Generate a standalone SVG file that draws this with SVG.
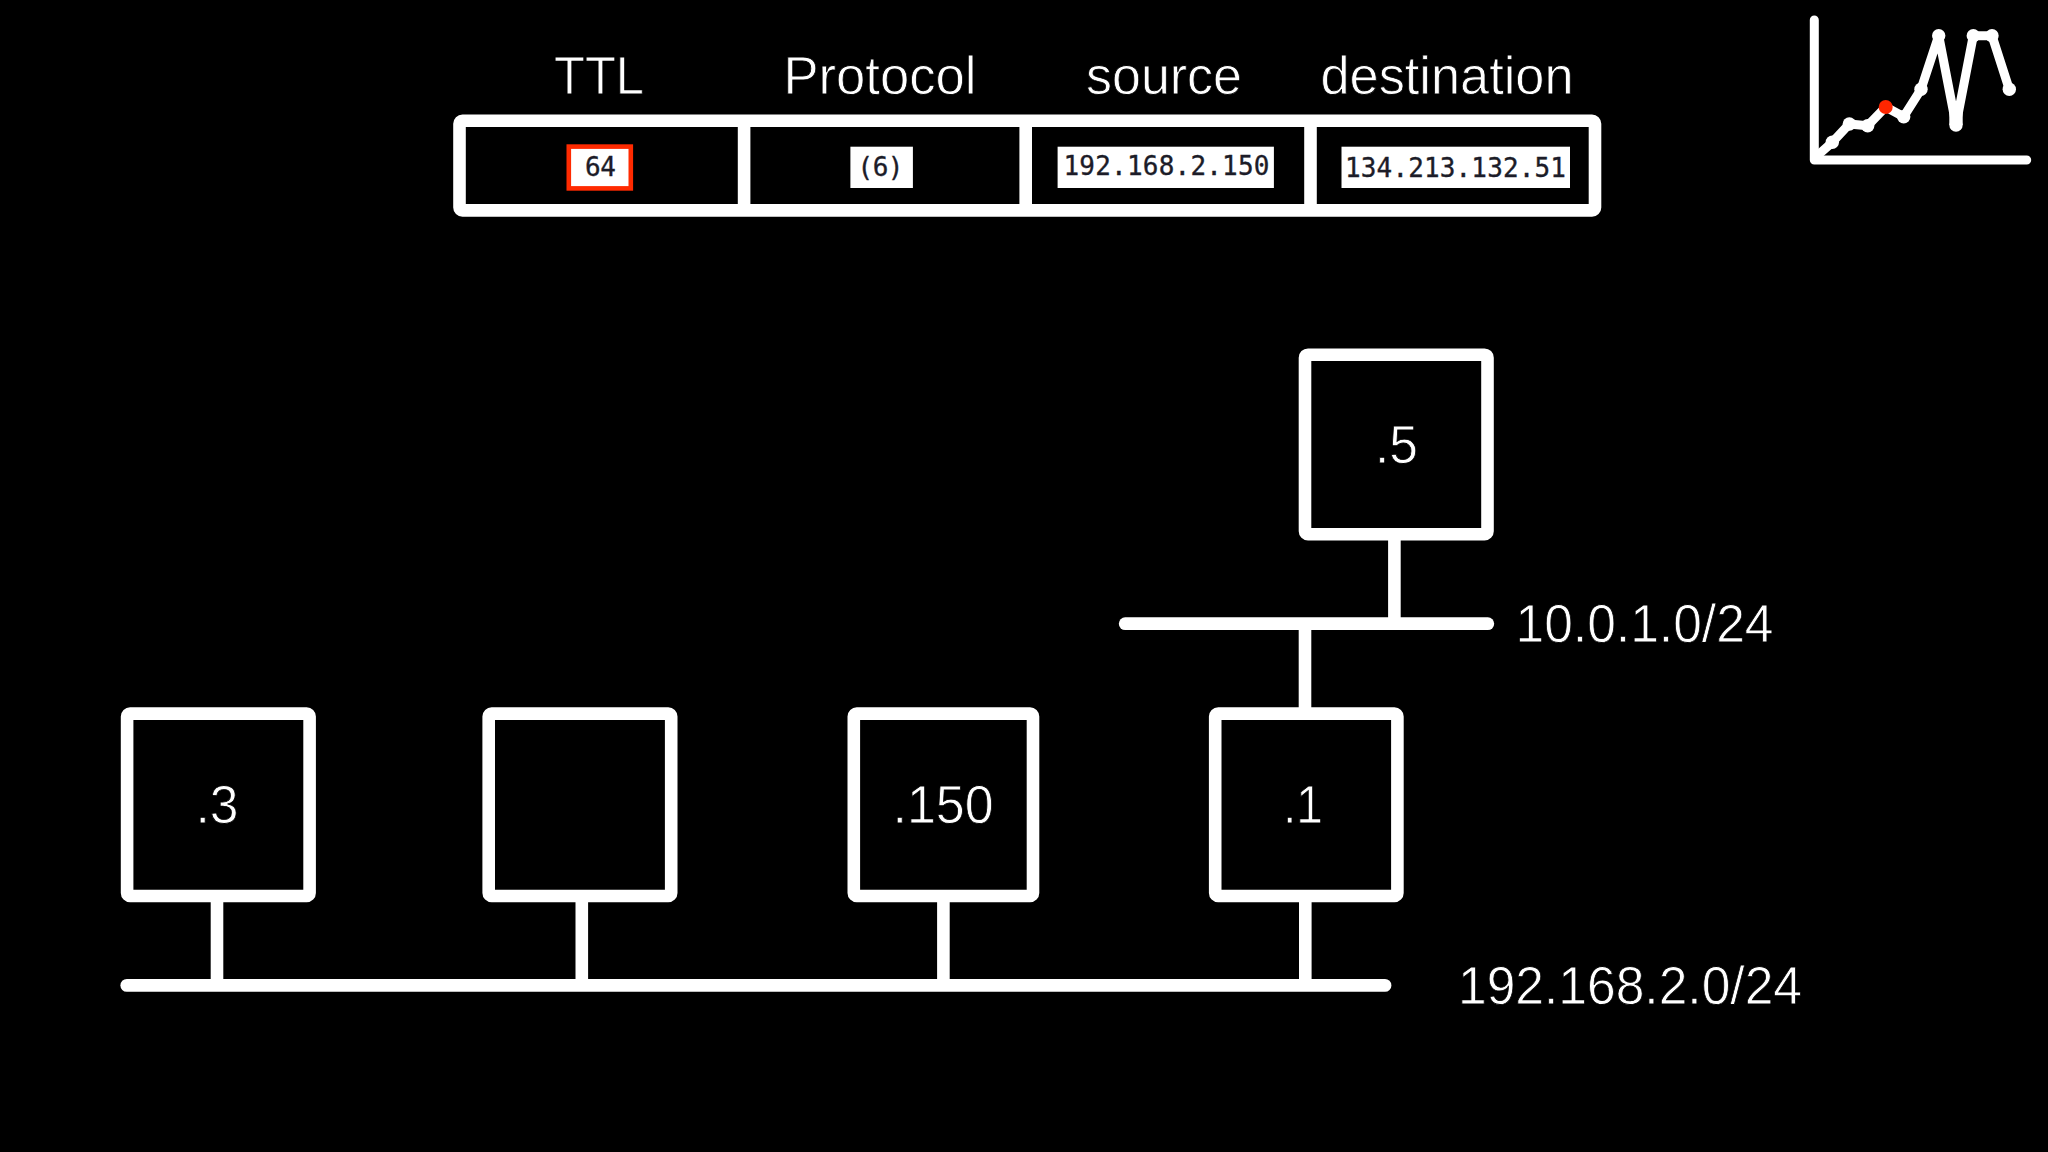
<svg xmlns="http://www.w3.org/2000/svg" width="2048" height="1152" viewBox="0 0 2048 1152">
<style>
.bg{fill:#000}
.box{fill:#000;stroke:#fff;stroke-width:12.6}
.wire{stroke:#fff;stroke-width:12.6;fill:none;stroke-linecap:butt}
.bus{stroke:#fff;stroke-width:12.8;fill:none;stroke-linecap:round}
.t{font-family:"Liberation Sans",Arial,sans-serif;font-size:53px;fill:#fff;stroke:#000;stroke-width:.8px}
.m{font-family:"DejaVu Sans Mono","Liberation Mono",monospace;font-size:26px;fill:#1c1c28;stroke:#1c1c28;stroke-width:.35px}
.chip{fill:#fff}
.axis{stroke:#fff;stroke-width:9;fill:none;stroke-linecap:round;stroke-linejoin:round}
.dot{fill:#fff}
</style>
<rect class="bg" width="2048" height="1152"/>

<g id="connectors">
<line class="bus" x1="1125.2" y1="623.7" x2="1487.8" y2="623.7"/>
<line class="bus" x1="126.8" y1="985.4" x2="1385" y2="985.4"/>
<line class="wire" x1="1394.4" y1="538" x2="1394.4" y2="620"/>
<line class="wire" x1="1305" y1="626" x2="1305" y2="710"/>
<line class="wire" x1="217" y1="900" x2="217" y2="988"/>
<line class="wire" x1="581.8" y1="900" x2="581.8" y2="988"/>
<line class="wire" x1="943.4" y1="900" x2="943.4" y2="988"/>
<line class="wire" x1="1305.3" y1="900" x2="1305.3" y2="988"/>
</g>

<g id="packet-header">
<rect class="box" x="459.5" y="120.8" width="1135.5" height="89.6" rx="3"/>
<line class="wire" x1="744.1" y1="120" x2="744.1" y2="210"/>
<line class="wire" x1="1025.7" y1="120" x2="1025.7" y2="210"/>
<line class="wire" x1="1310.5" y1="120" x2="1310.5" y2="210"/>
<text class="t" x="554" y="94" textLength="90" lengthAdjust="spacingAndGlyphs">TTL</text>
<text class="t" x="783.5" y="94" textLength="193" lengthAdjust="spacingAndGlyphs">Protocol</text>
<text class="t" x="1086" y="94" textLength="156" lengthAdjust="spacingAndGlyphs">source</text>
<text class="t" x="1320.5" y="94" textLength="253" lengthAdjust="spacingAndGlyphs">destination</text>
<rect x="568.8" y="146.6" width="62" height="41.8" fill="#fff" stroke="#ff2a00" stroke-width="4.6"/>
<text class="m" x="585" y="176" textLength="31">64</text>
<rect class="chip" x="850.4" y="146.7" width="62.5" height="41.3"/>
<text class="m" x="857.5" y="175.6" textLength="46">(6)</text>
<rect class="chip" x="1057.6" y="146.7" width="216.3" height="41.3"/>
<text class="m" x="1063.5" y="175.3" textLength="206">192.168.2.150</text>
<rect class="chip" x="1341.5" y="146.7" width="228.5" height="41.3"/>
<text class="m" x="1345" y="177.3" textLength="221">134.213.132.51</text>
</g>

<g id="node-5">
<rect class="box" x="1305" y="354.7" width="182.5" height="179.5" rx="3"/>
<text class="t" x="1375" y="463.3" textLength="43" lengthAdjust="spacingAndGlyphs">.5</text>
</g>
<g id="node-3">
<rect class="box" x="127.1" y="713.6" width="182.5" height="182.4" rx="3"/>
<text class="t" x="195.5" y="822.7" textLength="43" lengthAdjust="spacingAndGlyphs">.3</text>
</g>
<g id="node-blank">
<rect class="box" x="488.7" y="713.6" width="182.5" height="182.4" rx="3"/>
</g>
<g id="node-150">
<rect class="box" x="853.8" y="713.6" width="179.2" height="182.4" rx="3"/>
<text class="t" x="892.5" y="822.7" textLength="101" lengthAdjust="spacingAndGlyphs">.150</text>
</g>
<g id="node-1">
<rect class="box" x="1215.2" y="713.6" width="182.2" height="182.4" rx="3"/>
<text class="t" x="1283" y="822.7" textLength="40" lengthAdjust="spacingAndGlyphs">.1</text>
</g>

<g id="subnet-labels">
<text class="t" x="1515.5" y="641.7" textLength="258" lengthAdjust="spacingAndGlyphs">10.0.1.0/24</text>
<text class="t" x="1458" y="1004" textLength="344" lengthAdjust="spacingAndGlyphs">192.168.2.0/24</text>
</g>

<g id="ttl-chart">
<polyline class="axis" points="1814.3,20 1814.3,160 2026.7,160"/>
<polyline class="axis" points="1818,155 1832.3,142.3 1849.3,124 1867.7,125.7 1885.7,107 1903.7,116.7 1921,89.3 1938.7,35.7 1956,125 1973.3,35.7 1992,35.7 2009.3,89.3"/>
<line x1="1956" y1="108" x2="1956" y2="125" stroke="#fff" stroke-width="13.4"/>
<circle class="dot" cx="1832.3" cy="142.3" r="6.7"/>
<circle class="dot" cx="1849.3" cy="124" r="6.7"/>
<circle class="dot" cx="1867.7" cy="125.7" r="6.7"/>
<circle class="dot" cx="1903.7" cy="116.7" r="6.7"/>
<circle class="dot" cx="1921" cy="89.3" r="6.7"/>
<circle class="dot" cx="1938.7" cy="35.7" r="6.7"/>
<circle class="dot" cx="1956" cy="125" r="6.7"/>
<circle class="dot" cx="1973.3" cy="35.7" r="6.7"/>
<circle class="dot" cx="1992" cy="35.7" r="6.7"/>
<circle class="dot" cx="2009.3" cy="89.3" r="6.7"/>
<circle cx="1885.7" cy="107" r="7" fill="#ff2600"/>
</g>
</svg>
